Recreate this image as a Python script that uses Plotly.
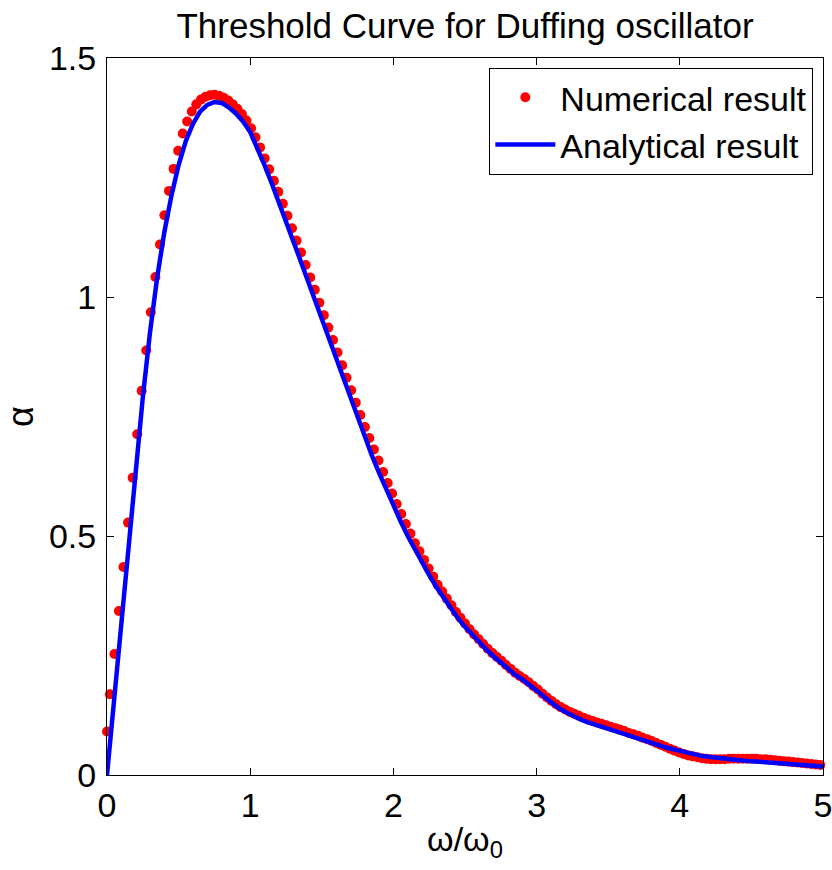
import plotly.graph_objects as go

# Numerical result (red dots)
num_x = [0.000, 0.020, 0.052, 0.083, 0.115, 0.147, 0.179, 0.211, 0.242, 0.274,
         0.306, 0.338, 0.370, 0.401, 0.433, 0.465, 0.497, 0.529, 0.560, 0.592,
         0.624, 0.656, 0.688, 0.719, 0.751, 0.783, 0.815, 0.847, 0.878, 0.910,
         0.942, 0.974, 1.006, 1.037, 1.069, 1.101, 1.133, 1.165, 1.196, 1.228,
         1.260, 1.292, 1.324, 1.355, 1.387, 1.419, 1.451, 1.483, 1.514, 1.546,
         1.578, 1.610, 1.642, 1.673, 1.705, 1.737, 1.769, 1.801, 1.832, 1.864,
         1.896, 1.928, 1.960, 1.991, 2.023, 2.055, 2.087, 2.119, 2.150, 2.182,
         2.214, 2.246, 2.278, 2.309, 2.341, 2.373, 2.405, 2.437, 2.468, 2.500,
         2.532, 2.564, 2.596, 2.627, 2.659, 2.691, 2.723, 2.755, 2.786, 2.818,
         2.850, 2.882, 2.914, 2.945, 2.977, 3.009, 3.041, 3.073, 3.104, 3.136,
         3.168, 3.200, 3.232, 3.263, 3.295, 3.327, 3.359, 3.391, 3.422, 3.454,
         3.486, 3.518, 3.550, 3.581, 3.613, 3.645, 3.677, 3.709, 3.740, 3.772,
         3.804, 3.836, 3.868, 3.899, 3.931, 3.963, 3.995, 4.027, 4.058, 4.090,
         4.122, 4.154, 4.186, 4.217, 4.249, 4.281, 4.313, 4.345, 4.376, 4.408,
         4.440, 4.472, 4.504, 4.535, 4.567, 4.599, 4.631, 4.663, 4.694, 4.726,
         4.758, 4.790, 4.822, 4.853, 4.885, 4.917, 4.949, 4.981]
num_y = [0.091, 0.169, 0.253, 0.343, 0.435, 0.528, 0.622, 0.713, 0.804, 0.888,
         0.968, 1.042, 1.110, 1.171, 1.222, 1.268, 1.306, 1.342, 1.367, 1.388,
         1.403, 1.413, 1.419, 1.422, 1.423, 1.421, 1.417, 1.411, 1.403, 1.394,
         1.383, 1.369, 1.353, 1.334, 1.313, 1.290, 1.267, 1.243, 1.220, 1.195,
         1.170, 1.144, 1.118, 1.093, 1.067, 1.041, 1.015, 0.988, 0.962, 0.936,
         0.910, 0.884, 0.857, 0.831, 0.805, 0.779, 0.753, 0.728, 0.705, 0.681,
         0.658, 0.634, 0.611, 0.589, 0.567, 0.546, 0.525, 0.505, 0.485, 0.468,
         0.450, 0.432, 0.415, 0.398, 0.384, 0.369, 0.355, 0.341, 0.329, 0.317,
         0.305, 0.294, 0.284, 0.274, 0.264, 0.255, 0.247, 0.239, 0.230, 0.222,
         0.214, 0.207, 0.201, 0.194, 0.186, 0.179, 0.170, 0.162, 0.155, 0.148,
         0.142, 0.137, 0.132, 0.128, 0.124, 0.120, 0.116, 0.113, 0.110, 0.107,
         0.104, 0.101, 0.098, 0.095, 0.092, 0.088, 0.085, 0.082, 0.078, 0.075,
         0.071, 0.067, 0.063, 0.059, 0.055, 0.051, 0.047, 0.044, 0.041, 0.039,
         0.037, 0.035, 0.034, 0.033, 0.033, 0.033, 0.033, 0.034, 0.034, 0.034,
         0.034, 0.034, 0.034, 0.034, 0.033, 0.033, 0.032, 0.031, 0.030, 0.029,
         0.028, 0.027, 0.026, 0.025, 0.024, 0.023, 0.022, 0.021]

# Analytical result (blue line)
ana_x = [0.00, 0.05, 0.10, 0.15, 0.20, 0.25, 0.30, 0.35, 0.40, 0.45,
         0.50, 0.55, 0.60, 0.65, 0.70, 0.75, 0.80, 0.85, 0.90, 0.95,
         1.00, 1.05, 1.10, 1.15, 1.20, 1.25, 1.30, 1.35, 1.40, 1.45,
         1.50, 1.55, 1.60, 1.65, 1.70, 1.75, 1.80, 1.85, 1.90, 1.95,
         2.00, 2.05, 2.10, 2.15, 2.20, 2.25, 2.30, 2.35, 2.40, 2.45,
         2.50, 2.55, 2.60, 2.65, 2.70, 2.75, 2.80, 2.85, 2.90, 2.95,
         3.00, 3.05, 3.10, 3.15, 3.20, 3.25, 3.30, 3.35, 3.40, 3.45,
         3.50, 3.55, 3.60, 3.65, 3.70, 3.75, 3.80, 3.85, 3.90, 3.95,
         4.00, 4.05, 4.10, 4.15, 4.20, 4.25, 4.30, 4.35, 4.40, 4.45,
         4.50, 4.55, 4.60, 4.65, 4.70, 4.75, 4.80, 4.85, 4.90, 4.95, 5.00]
ana_y = [0.000, 0.160, 0.318, 0.476, 0.635, 0.790, 0.925, 1.040, 1.135, 1.212,
         1.276, 1.326, 1.362, 1.388, 1.402, 1.408, 1.406, 1.397, 1.384, 1.367,
         1.345, 1.313, 1.276, 1.238, 1.199, 1.158, 1.118, 1.077, 1.036, 0.995,
         0.953, 0.911, 0.869, 0.827, 0.785, 0.744, 0.705, 0.668, 0.632, 0.597,
         0.563, 0.531, 0.500, 0.471, 0.444, 0.418, 0.393, 0.370, 0.348, 0.328,
         0.310, 0.293, 0.277, 0.262, 0.248, 0.235, 0.222, 0.210, 0.200, 0.189,
         0.177, 0.164, 0.152, 0.141, 0.132, 0.124, 0.117, 0.111, 0.106, 0.101,
         0.096, 0.091, 0.086, 0.081, 0.076, 0.071, 0.066, 0.062, 0.058, 0.054,
         0.050, 0.046, 0.043, 0.040, 0.038, 0.036, 0.034, 0.033, 0.032, 0.030,
         0.029, 0.028, 0.027, 0.025, 0.024, 0.023, 0.022, 0.021, 0.020, 0.019, 0.018]

x_ticks = [0, 1, 2, 3, 4, 5]
y_ticks = [0, 0.5, 1, 1.5]
y_tick_text = ["0", "0.5", "1", "1.5"]

FONT = "Liberation Sans, Arial, Helvetica, sans-serif"

fig = go.Figure()
fig.add_trace(go.Scatter(
    x=num_x, y=num_y, mode="markers", name="Numerical result",
    marker=dict(color="#ff0000", size=10, line=dict(width=0)),
    cliponaxis=False,
))
fig.add_trace(go.Scatter(
    x=ana_x, y=ana_y, mode="lines", name="Analytical result",
    line=dict(color="#0000ff", width=4.5),
))

axis_common = dict(
    showgrid=False, zeroline=False, showline=True, linecolor="black", linewidth=1,
    mirror="ticks", ticks="inside", ticklen=7, tickwidth=1, tickcolor="black",
    tickfont=dict(family=FONT, size=34, color="black"),
    ticklabeloverflow="allow", automargin=False,
)

fig.update_layout(
    width=832, height=870,
    margin=dict(l=107, r=9, t=58, b=95),
    paper_bgcolor="white", plot_bgcolor="white",
    font=dict(family=FONT, color="black"),
    title=dict(text="Threshold Curve for Duffing oscillator",
               x=465 / 832, xanchor="center", y=1 - 26 / 870, yanchor="middle",
               font=dict(family=FONT, size=35, color="black")),
    xaxis=dict(range=[0, 5], tickvals=x_ticks, ticktext=[str(v) for v in x_ticks],
               title=dict(text="ω/ω<sub>0</sub>", font=dict(family=FONT, size=34), standoff=4),
               ticklabelstandoff=0, **axis_common),
    yaxis=dict(range=[0, 1.5], tickvals=y_ticks, ticktext=y_tick_text,
               title=dict(text="α", font=dict(family=FONT, size=36), standoff=14),
               ticklabelstandoff=3, **axis_common),
    legend=dict(x=0.9865, xanchor="right", y=0.9865, yanchor="top",
                bgcolor="white", bordercolor="black", borderwidth=1,
                font=dict(family=FONT, size=34, color="black"),
                itemwidth=60, tracegroupgap=0),
    showlegend=True,
)

fig.write_html("out.html")
